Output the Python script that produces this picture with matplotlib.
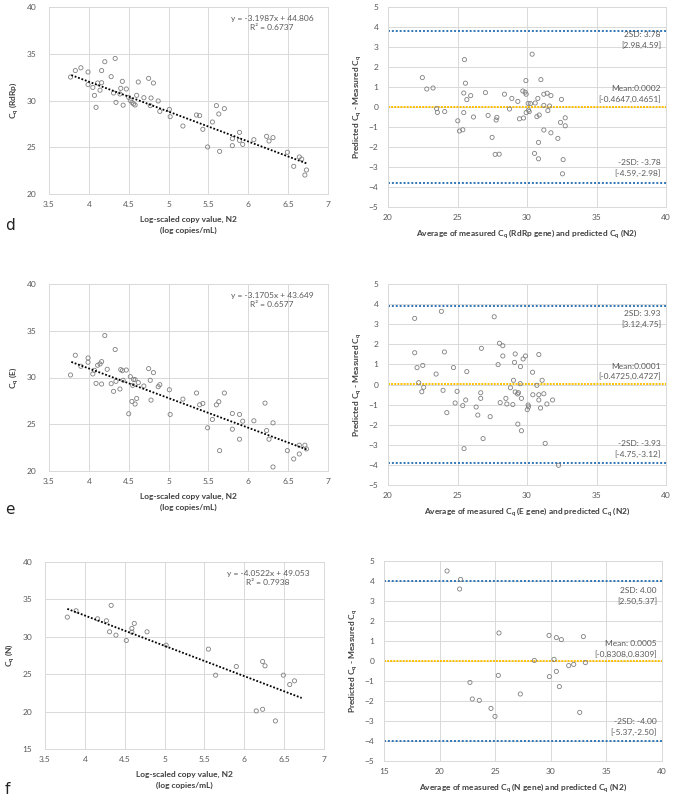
import matplotlib
matplotlib.use("Agg")
import matplotlib.pyplot as plt
import numpy as np

plt.rcParams['font.family'] = ['Lato', 'DejaVu Sans']
plt.rcParams['mathtext.fontset'] = 'custom'
plt.rcParams['mathtext.rm'] = 'Lato'
plt.rcParams['mathtext.it'] = 'Lato'
plt.rcParams['mathtext.bf'] = 'Lato:bold'

# ---------------- Panel d data ----------------
d_logcopy = [3.77, 3.83, 3.90, 3.99, 3.99, 4.05, 4.07, 4.09, 4.11, 4.14, 4.16, 4.16, 4.20, 4.28,
             4.31, 4.33, 4.34, 4.39, 4.40, 4.42, 4.43, 4.47, 4.50, 4.52, 4.54, 4.56, 4.58, 4.60,
             4.62, 4.69, 4.75, 4.77, 4.78, 4.81, 4.87, 4.89, 5.01, 5.02, 5.18, 5.35, 5.39, 5.43,
             5.49, 5.55, 5.60, 5.63, 5.64, 5.70, 5.80, 5.80, 5.89, 5.89, 5.93, 6.07, 6.23, 6.26,
             6.31, 6.49, 6.57, 6.64, 6.67, 6.73, 6.71]
d_cq = [32.51, 33.2, 33.5, 33.05, 31.7, 31.4, 30.55, 29.27, 31.87, 31.1, 33.2, 31.9, 34.15, 32.55,
        30.8, 34.5, 29.8, 30.7, 31.3, 32.05, 29.5, 31.23, 30.34, 30.0, 29.8, 29.63, 29.52, 30.55,
        31.98, 30.3, 32.37, 29.45, 30.27, 31.87, 29.95, 28.84, 29.05, 28.27, 27.27, 28.45, 28.38, 26.92,
        25.03, 27.7, 29.45, 28.56, 24.56, 29.13, 25.92, 25.17, 26.59, 25.74, 25.31, 25.81, 26.17, 25.67,
        26.03, 24.46, 22.96, 23.96, 23.74, 22.57, 22.03]
d_fit = [-3.1987, 44.806]
d_fit_range = [3.78, 6.73]
d_eq_text = "y = -3.1987x + 44.806\nR² = 0.6737"

d_avg = [22.47, 22.79, 23.24, 23.5, 23.55, 24.08, 25.02, 25.14, 25.38, 25.45, 25.45, 25.50, 25.57,
         25.67, 25.95, 26.15, 27.01, 27.2, 27.49, 27.71, 28.0, 27.78, 27.83, 28.38, 28.74, 28.91,
         29.34, 29.46, 29.75, 29.70, 29.87, 29.94, 29.92, 29.94, 30.08, 30.11, 30.16, 30.25, 30.37,
         30.59, 30.54, 30.71, 30.78, 30.83, 30.83, 30.88, 31.0, 31.21, 31.21, 31.21, 31.45, 31.5,
         31.62, 31.72, 31.72, 32.22, 32.41, 32.48, 32.6, 32.55, 32.75, 32.75]
d_diff = [1.47, 0.90, 0.95, -0.08, -0.27, -0.23, -0.69, -1.20, -1.14, -0.28, 0.70, 2.37, 1.19,
          0.37, 0.57, -0.50, 0.72, -0.42, -1.52, -2.37, -2.36, -0.65, -0.52, 0.64, -0.10, 0.43,
          0.28, -0.59, -0.55, 0.80, 0.74, 0.64, 1.32, -0.28, 0.18, -0.15, -0.23, 0.17, 2.64,
          0.20, -2.32, -0.48, 0.43, -1.77, -2.59, -0.40, 1.37, -1.15, 0.64, 0.08, 0.69, -0.18,
          0.05, 0.57, -1.29, -1.57, -0.77, 0.38, -2.63, -3.34, -0.54, -0.94]
d_limits = [3.78, 0.0002, -3.78]
d_labels = ["2SD: 3.78\n[2.98,4.59]", "Mean:0.0002\n[-0.4647,0.4651]", "-2SD: -3.78\n[-4.59,-2.98]"]

# ---------------- Panel e data ----------------
e_logcopy = [3.77, 3.83, 3.90, 3.99, 3.99, 4.05, 4.07, 4.09, 4.11, 4.14, 4.16, 4.16, 4.20, 4.23,
             4.28, 4.31, 4.33, 4.34, 4.39, 4.40, 4.42, 4.43, 4.47, 4.50, 4.52, 4.54, 4.55, 4.56,
             4.58, 4.58, 4.60, 4.62, 4.69, 4.75, 4.77, 4.78, 4.81, 4.87, 4.89, 5.01, 5.02, 5.18,
             5.35, 5.39, 5.43, 5.49, 5.55, 5.60, 5.63, 5.64, 5.70, 5.80, 5.80, 5.89, 5.89, 5.93,
             6.07, 6.21, 6.23, 6.26, 6.31, 6.31, 6.49, 6.57, 6.64, 6.64, 6.71, 6.73]
e_cq = [30.27, 32.38, 31.2, 32.09, 31.63, 30.38, 30.77, 29.37, 31.31, 31.45, 31.7, 29.3, 34.49, 30.88,
        29.34, 28.52, 32.99, 29.59, 28.77, 30.84, 30.73, 29.70, 30.80, 26.12, 30.09, 27.44, 29.16, 29.8,
        29.77, 27.16, 27.76, 29.45, 29.09, 30.95, 29.70, 27.58, 30.52, 29.02, 29.23, 28.69, 26.05, 27.69,
        28.34, 27.08, 27.23, 24.62, 25.51, 27.08, 27.41, 22.18, 28.34, 26.15, 24.47, 26.05, 23.40, 25.33,
        25.37, 27.26, 24.33, 23.40, 25.15, 20.43, 22.18, 21.29, 21.82, 22.76, 22.76, 22.36]
e_fit = [-3.1705, 43.649]
e_fit_range = [3.78, 6.73]
e_eq_text = "y = -3.1705x + 43.649\nR² = 0.6577"

e_avg = [21.92, 21.92, 22.09, 22.21, 22.5, 22.43, 22.57, 23.46, 23.84, 23.96, 24.06, 24.23, 24.71,
         24.83, 24.97, 25.38, 25.47, 25.59, 25.67, 26.34, 26.46, 26.67, 26.67, 26.72, 26.84, 27.35,
         27.64, 27.92, 28.02, 28.07, 28.26, 28.26, 28.48, 28.55, 28.81, 28.98, 29.03, 29.1, 29.15,
         29.15, 29.32, 29.39, 29.34, 29.51, 29.53, 29.6, 29.6, 29.72, 29.89, 30.02, 30.08, 30.11,
         30.40, 30.42, 30.71, 30.85, 30.85, 30.85, 30.97, 31.09, 31.21, 31.31, 31.43, 31.84, 32.27]
e_diff = [3.29, 1.58, 0.84, 0.09, 0.95, -0.36, -0.14, 0.52, 3.64, -0.29, 1.62, -1.40, 0.84,
          -0.92, -0.34, -1.05, -3.19, -0.77, 0.64, -1.12, -1.52, -0.41, -0.69, 1.80, -2.69, -1.60,
          3.37, 0.99, 2.05, -0.90, 1.93, 1.42, -0.69, -0.97, -0.16, -1.0, 0.21, 1.10, 1.52,
          -0.37, -0.47, -0.41, -1.97, 0.04, 0.89, -0.69, -2.30, 1.27, 1.42, -1.25, -1.02, -1.11,
          0.61, -0.51, -0.04, -0.51, -0.77, 1.49, -1.17, 0.21, -0.46, -2.93, -0.97, -0.77, -4.02]
e_limits = [3.93, 0.0001, -3.93]
e_labels = ["2SD: 3.93\n[3.12,4.75]", "Mean:0.0001\n[-0.4725,0.4727]", "-2SD: -3.93\n[-4.75,-3.12]"]

# ---------------- Panel f data ----------------
f_logcopy = [3.78, 3.89, 4.16, 4.27, 4.31, 4.33, 4.39, 4.52, 4.59, 4.59, 4.62, 4.78, 5.02, 5.55,
             5.64, 5.90, 6.15, 6.23, 6.23, 6.26, 6.39, 6.49, 6.57, 6.63]
f_cq = [32.63, 33.48, 32.41, 32.14, 30.67, 34.20, 30.22, 29.51, 31.12, 30.63, 31.79, 30.67, 28.88, 28.35,
        24.87, 26.03, 20.09, 26.70, 20.31, 26.12, 18.75, 24.87, 23.62, 24.11]
f_fit = [-4.0522, 49.053]
f_fit_range = [3.78, 6.72]
f_eq_text = "y = -4.0522x + 49.053\nR² = 0.7938"

f_avg = [20.67, 21.89, 21.80, 22.73, 22.94, 23.57, 24.62, 24.98, 25.28, 25.34, 27.26, 28.52,
         29.84, 29.87, 30.29, 30.5, 30.5, 30.77, 30.95, 31.61, 32.06, 32.6, 32.93, 33.11]
f_diff = [4.5, 4.08, 3.6, -1.07, -1.90, -1.97, -2.37, -2.77, -0.72, 1.4, -1.65, 0.03,
          1.28, -0.78, 0.08, 1.17, -0.52, -1.28, 1.07, -0.23, -0.17, -2.57, 1.22, -0.08]
f_limits = [4.00, 0.0005, -4.00]
f_labels = ["2SD: 4.00\n[2.50,5.37]", "Mean: 0.0005\n[-0.8308,0.8309]", "-2SD: -4.00\n[-5.37,-2.50]"]

# ---------------- Styling ----------------
W, H = 676, 801
fig = plt.figure(figsize=(W / 100, H / 100), dpi=100)

GRID = '#D9D9D9'
TICKC = '#595959'
LABC = '#404040'
PTC = '#808080'
BLUE = '#2E75B6'
YEL = '#FFC000'
FS = 6.0


def px_axes(l, t, r, b):
    return fig.add_axes([l / W, 1 - b / H, (r - l) / W, (b - t) / H])


def style(ax):
    ax.grid(True, color=GRID, linewidth=0.7)
    ax.set_axisbelow(True)
    for s in ax.spines.values():
        s.set_color(GRID)
        s.set_linewidth(0.7)
    ax.tick_params(length=0, labelsize=FS, colors=TICKC)


def scatter_panel(ax, x, y, fit, fit_range, eq, ylim, yticks, ylabel):
    style(ax)
    ax.scatter(x, y, s=9, facecolors='none', edgecolors=PTC, linewidths=0.6, zorder=3)
    xs = np.array(fit_range)
    ax.plot(xs, fit[0] * xs + fit[1], color='black', linestyle=(0, (1, 1)), linewidth=1.3, zorder=4)
    ax.set_xlim(3.5, 7)
    ax.set_xticks([3.5, 4, 4.5, 5, 5.5, 6, 6.5, 7])
    ax.set_xticklabels(['3.5', '4', '4.5', '5', '5.5', '6', '6.5', '7'])
    ax.set_ylim(*ylim)
    ax.set_yticks(yticks)
    ax.tick_params(axis='y', pad=9)
    ax.tick_params(axis='x', pad=5)
    ax.text(0.80, 0.915, eq, transform=ax.transAxes, ha='center', va='center',
            fontsize=FS, color=TICKC, linespacing=1.3)
    ax.set_xlabel("Log-scaled copy value, N2\n(log copies/mL)", fontsize=FS, fontweight='bold',
                  color=LABC, labelpad=6, linespacing=1.5)
    ax.set_ylabel(ylabel, fontsize=FS, fontweight='bold', color=LABC, labelpad=4)


def ba_panel(ax, x, y, limits, labels, xlim, xticks, xlabel, label_pos):
    style(ax)
    ax.scatter(x, y, s=9, facecolors='none', edgecolors=PTC, linewidths=0.6, zorder=3)
    ax.axhline(limits[0], color=BLUE, linestyle=(0, (1, 1)), linewidth=1.4, zorder=2)
    ax.axhline(limits[1], color=YEL, linestyle=(0, (1, 0.6)), linewidth=1.4, zorder=2)
    ax.axhline(limits[2], color=BLUE, linestyle=(0, (1, 1)), linewidth=1.4, zorder=2)
    ax.set_xlim(*xlim)
    ax.set_xticks(xticks)
    ax.set_ylim(-5, 5)
    ax.set_yticks(range(-5, 6))
    ax.tick_params(axis='y', pad=7)
    ax.tick_params(axis='x', pad=5)
    for lab, yp in zip(labels, label_pos):
        ax.text(0.982, yp, lab, transform=ax.transAxes, ha='right', va='center',
                fontsize=FS, color=TICKC, linespacing=1.45)
    ax.set_xlabel(xlabel, fontsize=FS, fontweight='bold', color=LABC, labelpad=5)
    ax.set_ylabel(r"Predicted C$_\mathbf{q}$ - Measured C$_\mathbf{q}$", fontsize=FS,
                  fontweight='bold', color=LABC, labelpad=3)


# Panel d
axd1 = px_axes(49, 7, 328, 194)
scatter_panel(axd1, d_logcopy, d_cq, d_fit, d_fit_range, d_eq_text, (20, 40), [20, 25, 30, 35, 40],
              r"C$_\mathbf{q}$ (RdRp)")
axd2 = px_axes(388, 7, 666, 207)
ba_panel(axd2, d_avg, d_diff, d_limits, d_labels, (20, 40), [20, 25, 30, 35, 40],
         r"Average of measured C$_\mathbf{q}$ (RdRp gene) and predicted C$_\mathbf{q}$ (N2)",
         [0.836, 0.563, 0.194])

# Panel e
axe1 = px_axes(49, 284, 328, 471)
scatter_panel(axe1, e_logcopy, e_cq, e_fit, e_fit_range, e_eq_text, (20, 40), [20, 25, 30, 35, 40],
              r"C$_\mathbf{q}$ (E)")
axe2 = px_axes(388, 284, 666, 485)
ba_panel(axe2, e_avg, e_diff, e_limits, e_labels, (20, 40), [20, 25, 30, 35, 40],
         r"Average of measured C$_\mathbf{q}$ (E gene) and predicted C$_\mathbf{q}$ (N2)",
         [0.825, 0.565, 0.18])

# Panel f
axf1 = px_axes(45, 562, 324, 749)
scatter_panel(axf1, f_logcopy, f_cq, f_fit, f_fit_range, f_eq_text, (15, 40), [15, 20, 25, 30, 35, 40],
              r"C$_\mathbf{q}$ (N)")
axf2 = px_axes(384, 561, 662, 761)
ba_panel(axf2, f_avg, f_diff, f_limits, f_labels, (15, 40), [15, 20, 25, 30, 35, 40],
         r"Average of measured C$_\mathbf{q}$ (N gene) and predicted C$_\mathbf{q}$ (N2)",
         [0.826, 0.559, 0.172])

# Panel letters
for letter, ypx in [('d', 226), ('e', 510), ('f', 789)]:
    fig.text(5 / W, 1 - ypx / H, letter, fontsize=11, color='#222222', ha='left', va='center',
             family=['DejaVu Sans'])

fig.savefig('out.png', dpi=100, facecolor='white')
